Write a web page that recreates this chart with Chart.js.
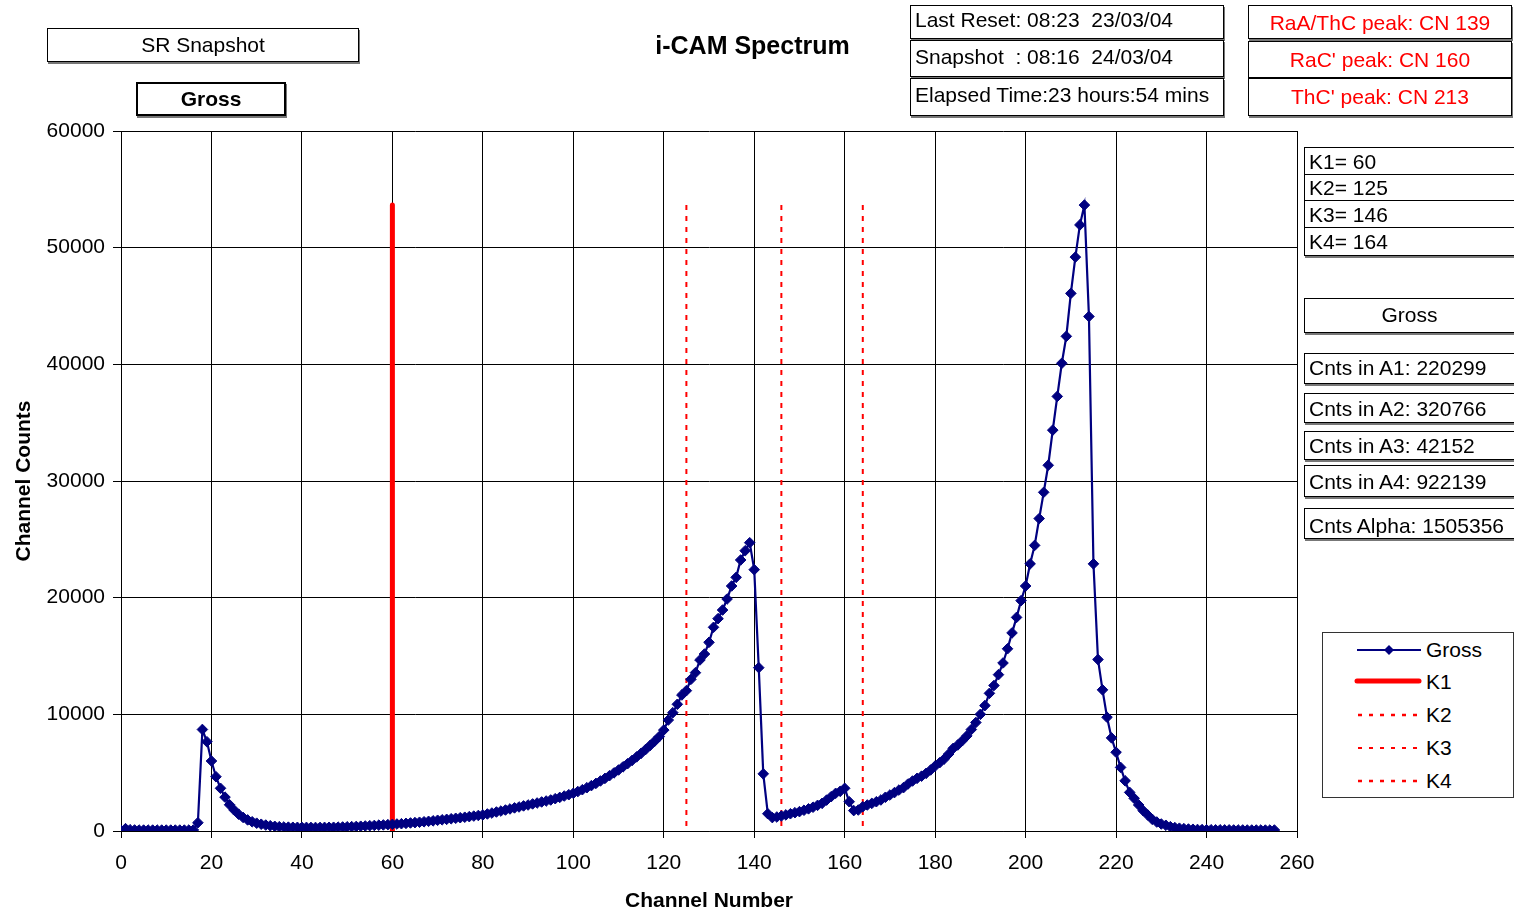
<!DOCTYPE html>
<html>
<head>
<meta charset="utf-8">
<title>i-CAM Spectrum</title>
<script src="https://cdn.jsdelivr.net/npm/chart.js@4.4.1/dist/chart.umd.min.js"></script>
<style>
  html, body { margin: 0; padding: 0; background: #fff; overflow: hidden; }
  #wrap { position: relative; width: 1514px; height: 911px; overflow: hidden;
          font-family: "Liberation Sans", Arial, Helvetica, sans-serif; color: #000; }
  #chart { position: absolute; left: 0; top: 0; }
  .box { position: absolute; box-sizing: border-box; border: 1px solid #000; background: #fff;
         box-shadow: 1px 2px 0 #777; font-size: 21px; line-height: 1; white-space: pre;
         display: flex; align-items: center; }
  .left { justify-content: flex-start; padding-left: 4px; }
  .center { justify-content: center; }
  .up { padding-bottom: 5px; }
  .red { color: #ff0000; }
  .bold { font-weight: bold; }
  #title { position: absolute; left: 600px; width: 305px; top: 30px; text-align: center;
           font-size: 25px; font-weight: bold; line-height: 30px; }
  #legend { position: absolute; left: 1322px; top: 632px; width: 192px; height: 166px;
            box-sizing: border-box; border: 1px solid #333; background: #fff; }
  .lg { position: absolute; left: 0; height: 30px; width: 190px; }
  .lg svg { position: absolute; left: 30px; top: 0; }
  .lg span { position: absolute; left: 103px; top: 4px; font-size: 21px; line-height: 22px; }
</style>
</head>
<body>
<div id="wrap">
  <canvas id="chart" width="1514" height="911"></canvas>

  <div id="title">i-CAM Spectrum</div>

  <div class="box center" style="left:47px;top:28px;width:312px;height:34px;padding-bottom:2px;">SR Snapshot</div>
  <div class="box center bold" style="left:136px;top:82px;width:150px;height:34px;border-width:2px;padding-bottom:2px;">Gross</div>

  <div class="box left up" style="left:910px;top:5px;width:314px;height:34px;">Last Reset: 08:23  23/03/04</div>
  <div class="box left up" style="left:910px;top:40px;width:314px;height:37px;">Snapshot  : 08:16  24/03/04</div>
  <div class="box left up" style="left:910px;top:78px;width:314px;height:38px;">Elapsed Time:23 hours:54 mins</div>

  <div class="box center red" style="left:1248px;top:5px;width:264px;height:34px;">RaA/ThC peak: CN 139</div>
  <div class="box center red" style="left:1248px;top:41px;width:264px;height:37px;">RaC' peak: CN 160</div>
  <div class="box center red" style="left:1248px;top:78px;width:264px;height:38px;padding-bottom:2px;">ThC' peak: CN 213</div>

  <div class="box left" style="left:1304px;top:147px;width:230px;height:28px;">K1= 60</div>
  <div class="box left" style="left:1304px;top:174px;width:230px;height:27px;">K2= 125</div>
  <div class="box left" style="left:1304px;top:200px;width:230px;height:28px;">K3= 146</div>
  <div class="box left" style="left:1304px;top:227px;width:230px;height:29px;">K4= 164</div>

  <div class="box center" style="left:1304px;top:298px;width:211px;height:35px;padding-bottom:2px;">Gross</div>
  <div class="box left" style="left:1304px;top:353px;width:230px;height:31px;padding-bottom:2px;">Cnts in A1: 220299</div>
  <div class="box left" style="left:1304px;top:393px;width:230px;height:30px;">Cnts in A2: 320766</div>
  <div class="box left" style="left:1304px;top:431px;width:230px;height:29px;">Cnts in A3: 42152</div>
  <div class="box left" style="left:1304px;top:465px;width:230px;height:32px;">Cnts in A4: 922139</div>
  <div class="box left" style="left:1304px;top:508px;width:230px;height:31px;padding-top:3px;">Cnts Alpha: 1505356</div>

  <div id="legend">
    <div class="lg" style="top:2px;">
      <svg width="70" height="30"><line x1="4" y1="15" x2="68" y2="15" stroke="#000080" stroke-width="2"/>
        <polygon points="36,10 41,15 36,20 31,15" fill="#000080"/></svg>
      <span>Gross</span></div>
    <div class="lg" style="top:34px;">
      <svg width="70" height="30"><line x1="4" y1="14" x2="66" y2="14" stroke="#ff0000" stroke-width="5" stroke-linecap="round"/></svg>
      <span>K1</span></div>
    <div class="lg" style="top:67px;">
      <svg width="70" height="30"><line x1="5" y1="15" x2="68" y2="15" stroke="#ff0000" stroke-width="2.5" stroke-dasharray="4 7"/></svg>
      <span>K2</span></div>
    <div class="lg" style="top:100px;">
      <svg width="70" height="30"><line x1="5" y1="15" x2="68" y2="15" stroke="#ff0000" stroke-width="2" stroke-dasharray="4 7"/></svg>
      <span>K3</span></div>
    <div class="lg" style="top:133px;">
      <svg width="70" height="30"><line x1="5" y1="15" x2="68" y2="15" stroke="#ff0000" stroke-width="2.5" stroke-dasharray="4 7"/></svg>
      <span>K4</span></div>
  </div>
</div>

<script>
// Gross counts per channel, channels 0..255
const grossCounts = [
  50, 200, 110, 90, 80, 80, 80, 80, 80, 80,
  80, 80, 80, 80, 80, 80, 90, 710, 8700, 7650,
  6000, 4650, 3660, 2900, 2250, 1800, 1440, 1160, 950, 790,
  670, 580, 510, 450, 400, 370, 345, 330, 320, 315,
  310, 310, 305, 305, 305, 310, 315, 320, 330, 345,
  360, 375, 390, 410, 430, 455, 475, 500, 520, 545,
  570, 600, 625, 655, 690, 720, 750, 790, 830, 870,
  920, 960, 1000, 1050, 1090, 1140, 1180, 1230, 1280, 1330,
  1380, 1460, 1540, 1630, 1710, 1800, 1890, 1980, 2060, 2150,
  2230, 2320, 2400, 2490, 2570, 2660, 2770, 2880, 3000, 3110,
  3230, 3380, 3540, 3710, 3890, 4080, 4290, 4510, 4740, 4980,
  5230, 5500, 5770, 6050, 6350, 6660, 6990, 7340, 7700, 8090,
  8650, 9510, 10140, 10860, 11660, 12030, 13000, 13570, 14660, 15170,
  16170, 17460, 18200, 18940, 19885, 21000, 21740, 23230, 24025, 24710,
  22400, 14000, 4900, 1480, 1150, 1200, 1290, 1380, 1480, 1570,
  1660, 1780, 1900, 2040, 2200, 2370, 2650, 2940, 3230, 3400,
  3660, 2510, 1750, 1800, 2080, 2230, 2370, 2510, 2660, 2890,
  3085, 3290, 3510, 3715, 4030, 4285, 4515, 4700, 4940, 5230,
  5570, 5855, 6170, 6600, 7085, 7370, 7740, 8150, 8700, 9300,
  10000, 10750, 11800, 12470, 13400, 14400, 15620, 16980, 18310, 19745,
  21000, 22900, 24480, 26780, 29030, 31350, 34360, 37250, 40090, 42400,
  46080, 49190, 51950, 53650, 44100, 22900, 14700, 12100, 9750, 7980,
  6750, 5450, 4300, 3310, 2800, 2230, 1740, 1370, 1000, 770,
  600, 490, 370, 290, 240, 200, 170, 150, 130, 120,
  110, 105, 100, 100, 95, 95, 90, 90, 90, 85,
  85, 85, 85, 80, 80, 85
];

// Region boundary markers (channel numbers)
const markerNames = ['K1', 'K2', 'K3', 'K4'];
const markerChannels = [60, 125, 146, 164];

// Axis ticks
const xTicks = [0, 20, 40, 60, 80, 100, 120, 140, 160, 180, 200, 220, 240, 260];
const yTicks = [0, 10000, 20000, 30000, 40000, 50000, 60000];

const grossPoints = grossCounts.map((c, i) => ({ x: i, y: c }));
const markerTop = Math.max(...grossCounts);

const FONT = '"Liberation Sans", Arial, Helvetica, sans-serif';

// Marker lines run top-down so the dash pattern starts at the top end
const markerSets = markerChannels.map((ch, k) => ({
  label: markerNames[k],
  data: [{ x: ch, y: markerTop }, { x: ch, y: 0 }],
  borderColor: '#ff0000',
  backgroundColor: '#ff0000',
  borderWidth: k === 0 ? 5 : 2,
  borderDash: k === 0 ? [] : [5, 6],
  borderCapStyle: k === 0 ? 'round' : 'butt',
  pointRadius: 0,
  showLine: true,
  order: 2
}));

new Chart(document.getElementById('chart'), {
  type: 'scatter',
  data: {
    datasets: [
      {
        label: 'Gross',
        data: grossPoints,
        borderColor: '#000080',
        backgroundColor: '#000080',
        borderWidth: 2.2,
        pointStyle: 'rectRot',
        pointRadius: 5.3,
        pointBorderWidth: 1,
        showLine: true,
        tension: 0,
        order: 1
      },
      ...markerSets
    ]
  },
  options: {
    responsive: false,
    animation: false,
    events: [],
    layout: { padding: { left: 0, right: 217, top: 131, bottom: 0 } },
    plugins: {
      legend: { display: false },
      tooltip: { enabled: false },
      title: { display: false }
    },
    scales: {
      x: {
        type: 'linear',
        min: 0,
        max: 260,
        afterBuildTicks: s => { s.ticks = xTicks.map(v => ({ value: v })); },
        afterFit: s => { s.height = 80; s.paddingLeft = 0; s.paddingRight = 0; },
        ticks: { color: '#000', font: { family: FONT, size: 21 }, padding: 13, maxRotation: 0,
                 callback: v => String(v) },
        grid: { color: '#000', lineWidth: 1, tickLength: 7, drawTicks: true },
        border: { display: true, color: '#000', width: 1 },
        title: { display: true, text: 'Channel Number', color: '#000',
                 font: { family: FONT, size: 21, weight: 'bold' }, padding: { top: 0, bottom: -3 } }
      },
      y: {
        type: 'linear',
        min: 0,
        max: 60000,
        afterBuildTicks: s => { s.ticks = yTicks.map(v => ({ value: v })); },
        afterFit: s => { s.width = 121; s.paddingTop = 0; s.paddingBottom = 0; },
        ticks: { color: '#000', font: { family: FONT, size: 21 }, padding: 8,
                 callback: v => String(v) },
        grid: { color: '#000', lineWidth: 1, tickLength: 8, drawTicks: true },
        border: { display: true, color: '#000', width: 1 },
        title: { display: true, text: 'Channel Counts', color: '#000',
                 font: { family: FONT, size: 21, weight: 'bold' }, padding: { top: 12, bottom: 0 } }
      }
    }
  }
});
</script>
</body>
</html>
